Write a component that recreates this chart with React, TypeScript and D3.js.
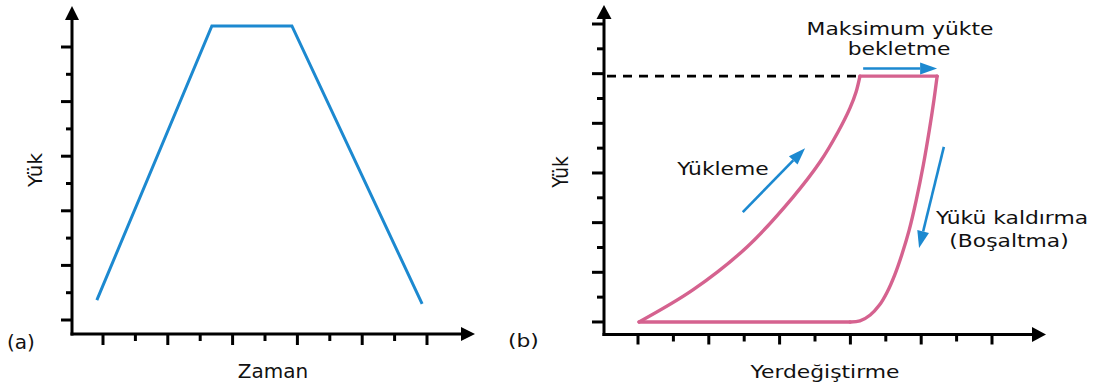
import React from 'react';
import * as d3 from 'd3';

// ---------- Panel (a): load over time ----------
const timeTicks = [1, 2, 3, 4, 5, 6, 7, 8, 9, 10, 11];
const loadTicksA = [1, 2, 3, 4, 5, 6, 7, 8, 9, 10, 11];
const timeValues = [0.81, 4.36, 6.83, 10.85];
const loadValuesA = [1.73, 11.77, 11.77, 1.59];

// ---------- Panel (b): load vs displacement ----------
const dispTicks = [1, 2, 3, 4, 5, 6, 7, 8, 9, 10, 11];
const loadTicksB = [1, 2, 3, 4, 5, 6, 7, 8, 9, 10, 11, 12, 13];
const loadingDisp = [1.03, 2.55, 4.08, 5.38, 6.14, 6.65, 6.99, 7.16, 7.27];
const loadingLoad = [1.0, 2.29, 4.02, 6.03, 7.44, 8.65, 9.62, 10.26, 10.9];
const holdDisp = [7.27, 9.45];
const holdLoad = [10.9, 10.9];
const unloadingDisp = [9.45, 9.36, 9.23, 9.06, 8.86, 8.66, 8.45, 8.25, 8.04, 7.82, 7.56, 7.27, 6.99];
const unloadingLoad = [10.9, 9.94, 8.73, 7.32, 5.91, 4.7, 3.7, 2.89, 2.21, 1.68, 1.28, 1.04, 1.0];
const returnDisp = [6.99, 1.03];
const returnLoad = [1.0, 1.0];

// direction arrows: [disp0, load0, disp1, load1]
const holdArrow = [7.36, 11.21, 9.45, 11.21];
const loadingArrow = [3.96, 5.42, 5.72, 8.0];
const unloadingArrow = [9.64, 8.05, 8.94, 3.98];

const W = 1106;
const H = 387;
const BLUE = '#1c89d0';
const PINK = '#d5628f';
const FONT = "'DejaVu Sans', Verdana, sans-serif";

function headPoints(x1: number, y1: number, x2: number, y2: number, len: number, half: number) {
  const a = Math.atan2(y2 - y1, x2 - x1);
  const bx = x2 - len * Math.cos(a);
  const by = y2 - len * Math.sin(a);
  const px = -Math.sin(a) * half;
  const py = Math.cos(a) * half;
  return { pts: `${x2},${y2} ${bx + px},${by + py} ${bx - px},${by - py}`, bx, by };
}

function Arrow({ x1, y1, x2, y2, color, width, len, half }: any) {
  const h = headPoints(x1, y1, x2, y2, len, half);
  return (
    <g>
      <line x1={x1} y1={y1} x2={h.bx} y2={h.by} stroke={color} strokeWidth={width} />
      <polygon points={h.pts} fill={color} />
    </g>
  );
}

const zip = (a: number[], b: number[]) => a.map((v, i) => [v, b[i]] as [number, number]);

export default function App() {
  // scales for panel (a)
  const xA = d3.scaleLinear().domain([0, 11]).range([70.6, 427]);
  const yA = d3.scaleLinear().domain([0, 11]).range([347.3, 47]);
  const axA = { x0: 72, y0: 334, xEnd: 475, yEnd: 6 };

  // scales for panel (b)
  const xB = d3.scaleLinear().domain([0, 11]).range([602.6, 992]);
  const yB = d3.scaleLinear().domain([0, 13]).range([346.8, 24]);
  const axB = { x0: 604, y0: 334.5, xEnd: 1046, yEnd: 5 };

  const lineA = d3.line<[number, number]>().x((d) => xA(d[0])).y((d) => yA(d[1]));
  const straightB = d3.line<[number, number]>().x((d) => xB(d[0])).y((d) => yB(d[1]));
  const curveB = d3
    .line<[number, number]>()
    .x((d) => xB(d[0]))
    .y((d) => yB(d[1]))
    .curve(d3.curveCatmullRom.alpha(0.5));

  const peak = yB(holdLoad[0]);

  const arrowB = (arr: number[]) => (
    <Arrow x1={xB(arr[0])} y1={yB(arr[1])} x2={xB(arr[2])} y2={yB(arr[3])} color={BLUE} width={2.6} len={17} half={6} />
  );

  const textB = (x: number, y: number, s: string, anchor = 'middle') => (
    <text transform={`translate(${x},${y}) scale(1.18,1)`} textAnchor={anchor} fontSize={18.5} fontFamily={FONT} fill="#111">
      {s}
    </text>
  );

  return (
    <svg width={W} height={H} style={{ position: 'absolute', left: 0, top: 0, display: 'block', background: '#fff' }}>
      {/* ---- panel (a) axes ---- */}
      <g stroke="#000" strokeWidth={3}>
        <line x1={axA.x0} y1={axA.y0 + 1.5} x2={axA.x0} y2={axA.yEnd + 12} />
        <line x1={axA.x0 - 1.5} y1={axA.y0} x2={axA.xEnd - 12} y2={axA.y0} />
        {loadTicksA.map((t) => (
          <line key={'ya' + t} x1={axA.x0 - (t % 2 === 1 ? 11 : 6)} x2={axA.x0} y1={yA(t)} y2={yA(t)} />
        ))}
        {timeTicks.map((t) => (
          <line key={'xa' + t} x1={xA(t)} x2={xA(t)} y1={axA.y0} y2={axA.y0 + (t % 2 === 1 ? 11 : 7)} />
        ))}
      </g>
      <polygon points={headPoints(axA.x0, axA.y0, axA.x0, axA.yEnd, 14, 7).pts} fill="#000" />
      <polygon points={headPoints(axA.x0, axA.y0, axA.xEnd, axA.y0, 14, 7).pts} fill="#000" />

      <path d={lineA(zip(timeValues, loadValuesA)) || ''} fill="none" stroke={BLUE} strokeWidth={3} strokeLinejoin="miter" />

      <text x={273} y={378} textAnchor="middle" fontSize={20} fontFamily={FONT} fill="#111">Zaman</text>
      <text transform="translate(42,170) rotate(-90)" textAnchor="middle" fontSize={20} fontFamily={FONT} fill="#111">Yük</text>
      <text x={7} y={349} fontSize={20} fontFamily={FONT} fill="#111">(a)</text>

      {/* ---- panel (b) axes ---- */}
      <g stroke="#000" strokeWidth={3}>
        <line x1={axB.x0} y1={axB.y0 + 1.5} x2={axB.x0} y2={axB.yEnd + 12} />
        <line x1={axB.x0 - 1.5} y1={axB.y0} x2={axB.xEnd - 12} y2={axB.y0} />
        {loadTicksB.map((t) => (
          <line key={'yb' + t} x1={axB.x0 - (t % 2 === 1 ? 12 : 7)} x2={axB.x0} y1={yB(t)} y2={yB(t)} />
        ))}
        {dispTicks.map((t) => (
          <line key={'xb' + t} x1={xB(t)} x2={xB(t)} y1={axB.y0} y2={axB.y0 + (t % 2 === 1 ? 10 : 7)} />
        ))}
      </g>
      <polygon points={headPoints(axB.x0, axB.y0, axB.x0, axB.yEnd, 14, 7.5).pts} fill="#000" />
      <polygon points={headPoints(axB.x0, axB.y0, axB.xEnd, axB.y0, 14, 7.5).pts} fill="#000" />

      {/* peak load reference */}
      <line x1={axB.x0 + 3} x2={xB(loadingDisp[loadingDisp.length - 1]) - 3} y1={peak} y2={peak} stroke="#000" strokeWidth={2.6} strokeDasharray="9 7" />

      {/* load-displacement loop */}
      <g fill="none" stroke={PINK} strokeWidth={3.4} strokeLinecap="round" strokeLinejoin="round">
        <path d={curveB(zip(loadingDisp, loadingLoad)) || ''} />
        <path d={straightB(zip(holdDisp, holdLoad)) || ''} />
        <path d={curveB(zip(unloadingDisp, unloadingLoad)) || ''} />
        <path d={straightB(zip(returnDisp, returnLoad)) || ''} />
      </g>

      {arrowB(holdArrow)}
      {arrowB(loadingArrow)}
      {arrowB(unloadingArrow)}

      {textB(900, 35, 'Maksimum yükte')}
      {textB(899, 55, 'bekletme')}
      {textB(723, 175, 'Yükleme')}
      {textB(1012, 224, 'Yükü kaldırma')}
      {textB(1009, 247, '(Boşaltma)')}
      {textB(825, 378, 'Yerdeğiştirme')}
      {textB(508, 347, '(b)', 'start')}
      <text transform="translate(568,172) rotate(-90) scale(1,1.1)" textAnchor="middle" fontSize={18.5} fontFamily={FONT} fill="#111">Yük</text>
    </svg>
  );
}
